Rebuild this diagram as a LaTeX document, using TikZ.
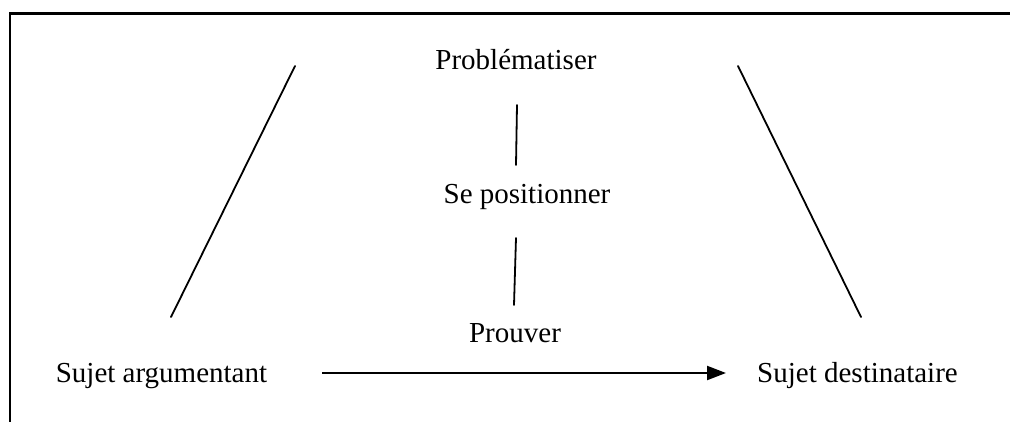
\documentclass[tikz,border=0pt]{standalone}
\usepackage{fontspec}
\setmainfont{Liberation Serif}
\usetikzlibrary{arrows.meta}
\begin{document}
\begin{tikzpicture}[x=1pt,y=-1pt,
  lbl/.style={anchor=base,inner sep=0pt,font=\fontsize{29}{34}\selectfont},
  seg/.style={line width=1.8pt,line cap=round},
  frame/.style={line width=2.2pt}]
\useasboundingbox (0,0) rectangle (1010,421);
\draw[frame] (1012,13.5) -- (10,13.5) -- (10,423);
\node[lbl] (prob) at (516,69) {Problématiser};
\node[lbl] (pos) at (527,203) {Se positionner};
\node[lbl] (prou) at (515,342) {Prouver};
\node[lbl] (arg) at (161.5,382) {Sujet argumentant};
\node[lbl] (dest) at (857.5,382) {Sujet destinataire};
\coordinate (l1) at (295,66); \coordinate (l2) at (171,317);
\coordinate (r1) at (738,66); \coordinate (r2) at (861,317);
\coordinate (m1) at (517,105); \coordinate (m2) at (516,165);
\coordinate (m3) at (516,238); \coordinate (m4) at (514,305);
\coordinate (a1) at (322,373); \coordinate (a2) at (726,373);
\draw[seg] (l1) -- (l2);
\draw[seg] (r1) -- (r2);
\draw[seg] (m1) -- (m2);
\draw[seg] (m3) -- (m4);
\draw[line width=2.2pt,-{Triangle[length=19pt,width=14pt]}] (a1) -- (a2);
\end{tikzpicture}
\end{document}
